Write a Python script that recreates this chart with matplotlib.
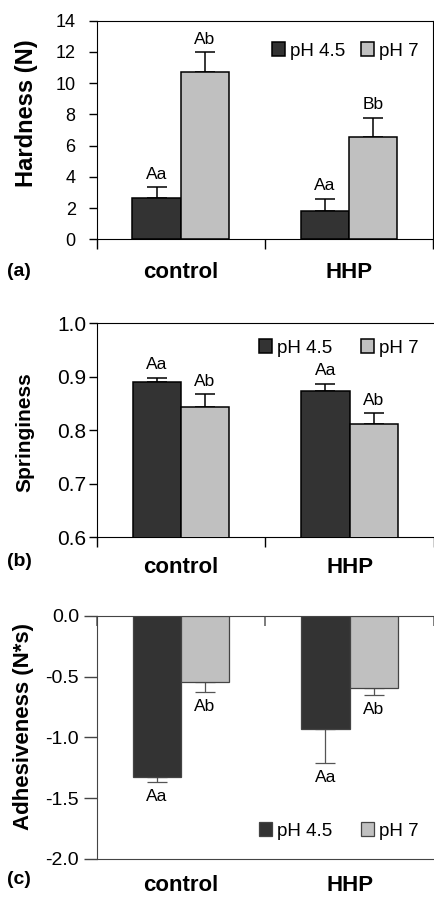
import matplotlib
matplotlib.use("Agg")
import matplotlib.pyplot as plt
import numpy as np

plt.rcParams['font.family'] = ['Liberation Sans', 'DejaVu Sans']

categories = ["control", "HHP"]
series_names = ["pH 4.5", "pH 7"]

hard_ph45 = [2.65, 1.79]
hard_ph45_err = [0.68, 0.79]
hard_ph7 = [10.69, 6.53]
hard_ph7_err = [1.28, 1.24]
hard_lbl_ph45 = ["Aa", "Aa"]
hard_lbl_ph7 = ["Ab", "Bb"]

spring_ph45 = [0.891, 0.874]
spring_ph45_err = [0.007, 0.013]
spring_ph7 = [0.844, 0.812]
spring_ph7_err = [0.023, 0.020]
spring_lbl_ph45 = ["Aa", "Aa"]
spring_lbl_ph7 = ["Ab", "Ab"]

adh_ph45 = [-1.324, -0.929]
adh_ph45_err = [0.044, 0.285]
adh_ph7 = [-0.547, -0.596]
adh_ph7_err = [0.079, 0.058]
adh_lbl_ph45 = ["Aa", "Aa"]
adh_lbl_ph7 = ["Ab", "Ab"]

DARK = "#333333"
LIGHT = "#c0c0c0"

W, H = 434, 899
fig = plt.figure(figsize=(W / 100, H / 100), dpi=100)


def fx(px):
    return px / W


def fy(py):
    return 1 - py / H


def make_axes(top, bottom, right):
    return fig.add_axes([fx(96.5), fy(bottom), fx(right) - fx(96.5), fy(top) - fy(bottom)])


x = np.arange(len(categories))
bw = 0.286


def draw_panel(ax, v1, e1, v2, e2, l1, l2, ylim, yticks, yfmt, ylabel, panel, legend_y,
               neg=False, edge="black", elw=1.1, ecol="black", ylabel_pos=(27, 130), ylsize=16,
               colsp=1.5, xpad=17, tsize=12.5, tpad=9, tlen=6):
    ax.bar(x - bw / 2, v1, bw, color=DARK, edgecolor=edge, linewidth=elw, label=series_names[0], zorder=3)
    ax.bar(x + bw / 2, v2, bw, color=LIGHT, edgecolor=edge, linewidth=elw, label=series_names[1], zorder=3)
    for xs, v, e, lbls in [(x - bw / 2, v1, e1, l1), (x + bw / 2, v2, e2, l2)]:
        v = np.array(v)
        e = np.array(e)
        if neg:
            yerr = [e, np.zeros_like(e)]
        else:
            yerr = [np.zeros_like(e), e]
        ax.errorbar(xs, v, yerr=yerr, fmt="none", ecolor=ecol, elinewidth=elw, capsize=7.5,
                    capthick=elw, zorder=2)
        for xi, vi, ei, lb in zip(xs, v, e, lbls):
            if neg:
                ax.annotate(lb, (xi, vi - ei), xytext=(0, -5), textcoords="offset points",
                            ha="center", va="top", fontsize=12.5)
            else:
                ax.annotate(lb, (xi, vi + ei), xytext=(0, 4), textcoords="offset points",
                            ha="center", va="bottom", fontsize=12.5)
    ax.set_xlim(-0.5, 1.5)
    ax.set_ylim(*ylim)
    ax.set_yticks(yticks)
    ax.set_yticklabels([yfmt.format(t) for t in yticks], fontsize=tsize)
    ax.set_xticks(x)
    ax.set_xticklabels(categories, fontsize=16, fontweight="bold")
    ax.tick_params(axis="x", which="major", length=0, pad=xpad)
    ax.set_xticks([-0.5, 0.5, 1.5], minor=True)
    ax.tick_params(axis="y", length=tlen, width=1, direction="out", pad=tpad)
    fig.text(fx(ylabel_pos[0]), fy(ylabel_pos[1]), ylabel, rotation=90, ha="center", va="center",
             fontsize=ylsize, fontweight="bold")
    fig.text(fx(7), fy(panel[1]), panel[0], ha="left", va="center", fontsize=14, fontweight="bold")
    ax.legend(loc="center right", bbox_to_anchor=(fx(419), fy(legend_y)),
              bbox_transform=fig.transFigure, ncol=2, frameon=False, fontsize=13.5,
              handlelength=0.7, handleheight=0.7, handletextpad=0.3, columnspacing=colsp,
              borderaxespad=0, borderpad=0)
    return ax


# panel a
ax1 = make_axes(20.7, 239.3, 432.7)
draw_panel(ax1, hard_ph45, hard_ph45_err, hard_ph7, hard_ph7_err, hard_lbl_ph45, hard_lbl_ph7,
           (0, 14), [0, 2, 4, 6, 8, 10, 12, 14], "{:.0f}", "Hardness (N)", ("(a)", 271), 51,
           ylabel_pos=(27, 113), ylsize=17, colsp=0.8, xpad=16, tsize=13, tpad=9, tlen=6)
ax1.tick_params(axis="x", which="minor", length=7, width=1, direction="out")

# panel b
ax2 = make_axes(323.3, 537.3, 434)
draw_panel(ax2, spring_ph45, spring_ph45_err, spring_ph7, spring_ph7_err, spring_lbl_ph45,
           spring_lbl_ph7, (0.6, 1.0), [0.6, 0.7, 0.8, 0.9, 1.0], "{:.1f}", "Springiness",
           ("(b)", 561), 348, ylabel_pos=(25, 432), ylsize=15, colsp=1.5, xpad=14,
           tsize=15, tpad=1.5, tlen=6)
ax2.spines["right"].set_visible(False)
ax2.tick_params(axis="x", which="minor", length=7, width=1, direction="out")

# panel c
ax3 = make_axes(616, 858.7, 434)
draw_panel(ax3, adh_ph45, adh_ph45_err, adh_ph7, adh_ph7_err, adh_lbl_ph45, adh_lbl_ph7,
           (-2.0, 0.0), [-2.0, -1.5, -1.0, -0.5, 0.0], "{:.1f}", "Adhesiveness (N*s)",
           ("(c)", 880), 831, neg=True, edge="#444444", elw=0.9, ecol="#555555",
           ylabel_pos=(24, 727), ylsize=16, colsp=1.5, xpad=12, tsize=14, tpad=3, tlen=9.5)
ax3.spines["right"].set_visible(False)
for s in ax3.spines.values():
    s.set_color("#444444")
ax3.tick_params(axis="y", color="#444444")
ax3.tick_params(axis="x", which="minor", bottom=False, top=True, length=7, width=1.2,
                direction="in", color="#666666")

fig.savefig("out.png", dpi=100)
